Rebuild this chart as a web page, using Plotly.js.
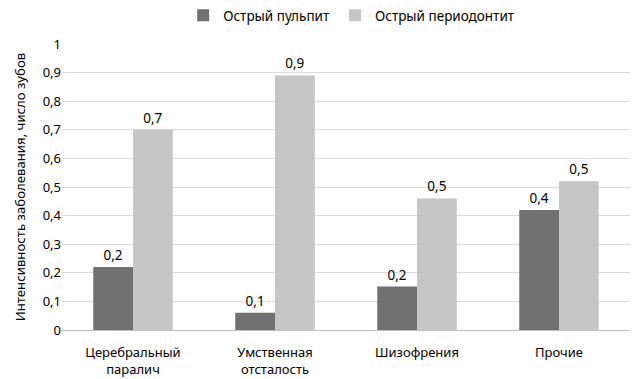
<!DOCTYPE html>
<html>
<head>
<meta charset="utf-8">
<script src="https://cdn.plot.ly/plotly-3.0.1.min.js"></script>
<style>html,body{margin:0;padding:0;background:#fff;}#chart{width:643px;height:379px;}</style>
</head>
<body>
<div id="chart"></div>
<script>
const categories = ["Церебральный<br>паралич", "Умственная<br>отсталость", "Шизофрения", "Прочие"];
const seriesNames = ["Острый пульпит", "Острый периодонтит"];
const pulpitis = [0.22, 0.06, 0.152, 0.42];
const periodontitis = [0.70, 0.89, 0.46, 0.52];
const yTicks = [0, 0.1, 0.2, 0.3, 0.4, 0.5, 0.6, 0.7, 0.8, 0.9, 1];
const yTickText = ["0", "0,1", "0,2", "0,3", "0,4", "0,5", "0,6", "0,7", "0,8", "0,9", "1"];

const font = {family: "Noto Sans, Open Sans, sans-serif", size: 13, color: "#000"};
const traces = [
  {type: "bar", name: seriesNames[0], x: categories, y: pulpitis,
   marker: {color: "#717171"}, texttemplate: "%{y:.1f}", textposition: "outside",
   textfont: {family: font.family, size: 13.5, color: "#000"}, cliponaxis: false},
  {type: "bar", name: seriesNames[1], x: categories, y: periodontitis,
   marker: {color: "#c6c6c6"}, texttemplate: "%{y:.1f}", textposition: "outside",
   textfont: {family: font.family, size: 13.5, color: "#000"}, cliponaxis: false}
];
const layout = {
  width: 643, height: 379,
  margin: {l: 62, r: 13, t: 44, b: 49},
  font: font,
  separators: ", ",
  bargap: 0.44, bargroupgap: 0,
  paper_bgcolor: "#fff", plot_bgcolor: "#fff",
  showlegend: true,
  legend: {orientation: "h", x: 0.51, xanchor: "center", y: 1.0, yref: "container", yanchor: "top",
           font: {family: font.family, size: 13.5, color: "#000"}, traceorder: "normal", itemwidth: 30},
  xaxis: {showgrid: false, showline: true, linecolor: "#bfbfbf", linewidth: 1, ticks: "",
          ticklabelstandoff: 10,
          tickfont: {family: font.family, size: 13, color: "#000"}},
  yaxis: {range: [0, 1], tickvals: yTicks, ticktext: yTickText, showgrid: true, gridcolor: "#dcdcdc",
          zeroline: false, showline: false, ticks: "", ticklen: 0,
          tickfont: {family: font.family, size: 13, color: "#000"},
          title: {text: "Интенсивность заболевания, число зубов", font: {family: font.family, size: 13.2, color: "#000"}, standoff: 14}}
};
Plotly.newPlot("chart", traces, layout, {displayModeBar: false, staticPlot: true});
</script>
</body>
</html>
